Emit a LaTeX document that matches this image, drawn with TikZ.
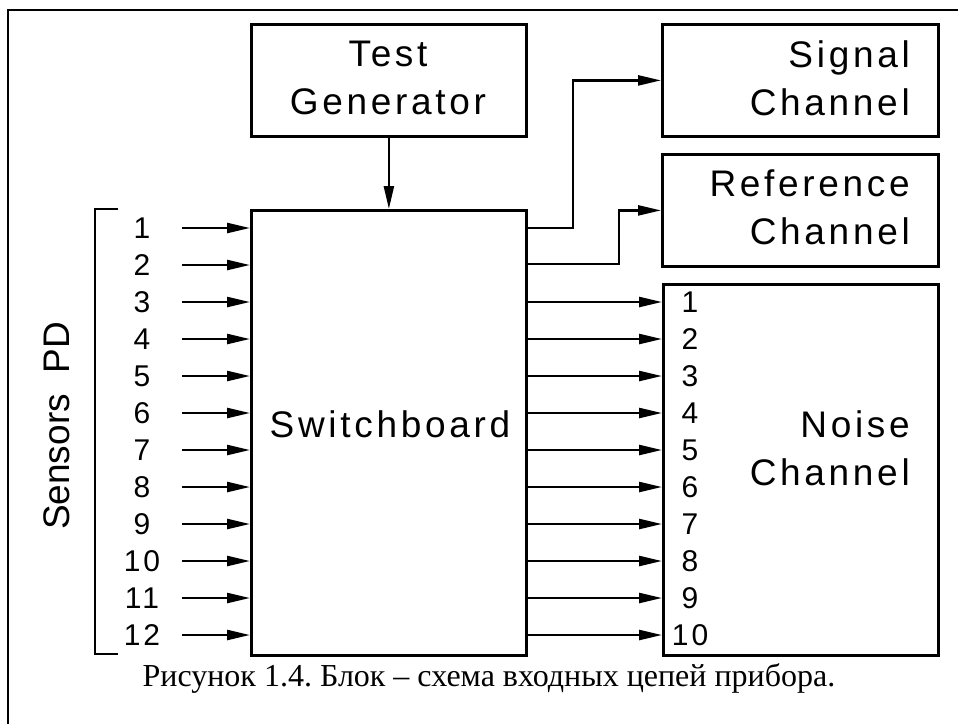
\documentclass[tikz,border=0pt]{standalone}
\usepackage{fontspec}
\setmainfont{Liberation Serif}
\newfontfamily\labf[LetterSpace=10]{Liberation Sans}
\newfontfamily\plainsans{Liberation Sans}
\usetikzlibrary{arrows.meta,calc}
\frenchspacing
\begin{document}
\begin{tikzpicture}[x=1pt,y=-1pt, line width=2.4pt,
  box/.style={draw, line width=2.8pt, inner sep=0pt, anchor=north west},
  arr/.style={-{Triangle[length=23pt,width=10pt]}, line width=2.4pt},
  lbl/.style={font=\labf\fontsize{37}{48}\selectfont, inner sep=0pt},
  num/.style={font=\labf\fontsize{30}{30}\selectfont, inner sep=0pt}]
\useasboundingbox (0,0) rectangle (958,724);
\draw (8,724) -- (8,10) -- (958,10);
% boxes
\node[box, minimum width=275pt, minimum height=112pt] (tg) at (250,23) {};
\node[box, minimum width=275pt, minimum height=445pt] (sw) at (250,209) {};
\node[box, minimum width=276pt, minimum height=112pt] (sig) at (661,23) {};
\node[box, minimum width=276pt, minimum height=112pt] (ref) at (661,153) {};
\node[box, minimum width=275pt, minimum height=371pt] (nz) at (662,283) {};
% labels
\node[lbl, align=center] (tgt) at (388,78) {Test\\Generator};
\node[lbl, align=right, anchor=east] (sigt) at (911,78) {Signal\\Channel};
\node[lbl, align=right, anchor=east] (reft) at (911,207) {Reference\\Channel};
\node[lbl, align=right, anchor=east] (nzt) at (911,448) {Noise\\Channel};
\node[lbl] (swt) at (390,424) {Switchboard};
\node[font=\plainsans\fontsize{37}{37}\selectfont, rotate=90, inner sep=0pt] (sens) at (57,426) {Sensors\ \ PD};
% test generator arrow
\draw[arr] (tg.south) -- (sw.north);
% signal & reference connectors
\draw[arr] ([yshift=-19pt]sw.north east) -- ++(45,0) |- (sig.west);
\draw[arr] ([yshift=-55pt]sw.north east) -- ++(91,0) |- (ref.west);
% inputs
\foreach \i in {1,...,12}{
  \pgfmathsetmacro{\yy}{228+(\i-1)*37}
  \node[num] (il\i) at (142,\yy) {\i};
  \coordinate (is\i) at (182,\yy);
  \draw[arr] (is\i) -- (sw.west |- is\i);
}
% bracket
\draw (118,209) -- (95,209) -- (95,654) -- (118,654);
% noise outputs
\foreach \i in {1,...,10}{
  \pgfmathsetmacro{\yy}{302+(\i-1)*37}
  \coordinate (os\i) at (525,\yy);
  \draw[arr] (os\i) -- (nz.west |- os\i);
  \node[num] (ol\i) at (690,\yy) {\i};
}
% caption
\node[font=\fontsize{32}{36}\selectfont, inner sep=0pt] (cap) at (489,678) {Рисунок 1.4. Блок – схема входных цепей прибора.};
\end{tikzpicture}
\end{document}
